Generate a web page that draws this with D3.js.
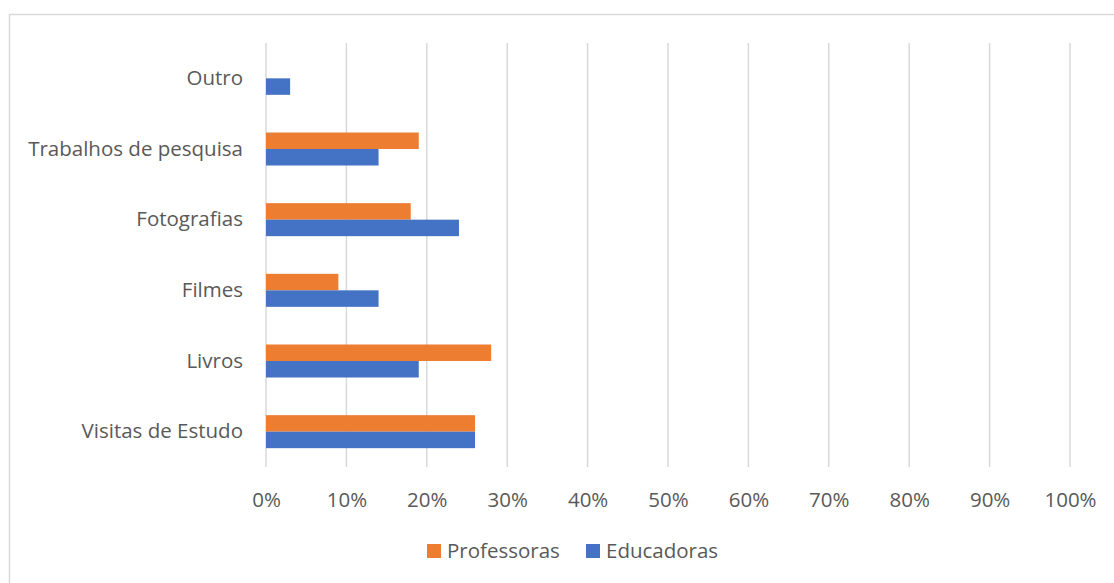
<!DOCTYPE html>
<html><head><meta charset="utf-8">
<script src="https://cdn.jsdelivr.net/npm/d3@7"></script>
<style>body{margin:0;background:#fff}svg{display:block}text{font-family:"Open Sans",sans-serif;fill:#595959}</style>
</head><body><svg id="c" width="1114" height="583"></svg>
<script>
const categories = ["Visitas de Estudo","Livros","Filmes","Fotografias","Trabalhos de pesquisa","Outro"];
const series = ["Professoras","Educadoras"];
const professoras = [26,28,9,18,19,0];
const educadoras = [26,19,14,24,14,3];
const ticks = [0,10,20,30,40,50,60,70,80,90,100];
const colors = ["#ED7D31","#4472C4"];
const FONT = "Open Sans";
const FS = 20.5;

const svg = d3.select("#c");
svg.append("rect").attr("x",9.5).attr("y",14.5).attr("width",1120).attr("height",600)
  .attr("fill","none").attr("stroke","#d9d9d9").attr("stroke-width",1.5);

const x = d3.scaleLinear().domain([0,100]).range([266,1070]);
const y0 = d3.scaleBand().domain(categories).range([467,43]).paddingInner(0.533).paddingOuter(0.2665);
const y1 = d3.scaleBand().domain(series).range([0,y0.bandwidth()]);

svg.append("g").selectAll("line").data(ticks).join("line")
  .attr("x1",d=>x(d)).attr("x2",d=>x(d)).attr("y1",43).attr("y2",467)
  .attr("stroke","#d9d9d9").attr("stroke-width",1.5);

const vals = [professoras, educadoras];
const g = svg.append("g");
categories.forEach((c,i)=>{
  series.forEach((s,j)=>{
    const v = vals[j][i];
    if (v>0) g.append("rect").attr("x",x(0)).attr("y",y0(c)+y1(s))
      .attr("width",x(v)-x(0)).attr("height",y1.bandwidth()).attr("fill",colors[j]);
  });
});

const xa = d3.axisBottom(x).tickValues(ticks).tickFormat(d=>d+"%").tickSize(0).tickPadding(0);
const xg = svg.append("g").attr("transform","translate(0,500)").call(xa);
xg.select(".domain").remove();
xg.selectAll("text").attr("dy","0.35em").attr("font-size",FS).style("fill","#595959").attr("font-family",FONT);

const ya = d3.axisLeft(y0).tickSize(0).tickPadding(0);
const yg = svg.append("g").attr("transform","translate(243,0)").call(ya);
yg.select(".domain").remove();
yg.selectAll("text").attr("font-size",FS).style("fill","#595959").attr("font-family",FONT);

const lg = svg.append("g");
const lx = [427,586];
series.forEach((s,j)=>{
  lg.append("rect").attr("x",lx[j]).attr("y",544).attr("width",14).attr("height",14).attr("fill",colors[j]);
  lg.append("text").attr("x",lx[j]+20).attr("y",551).attr("dy","0.35em").attr("font-size",FS).attr("font-family",FONT).text(s);
});
</script></body></html>
